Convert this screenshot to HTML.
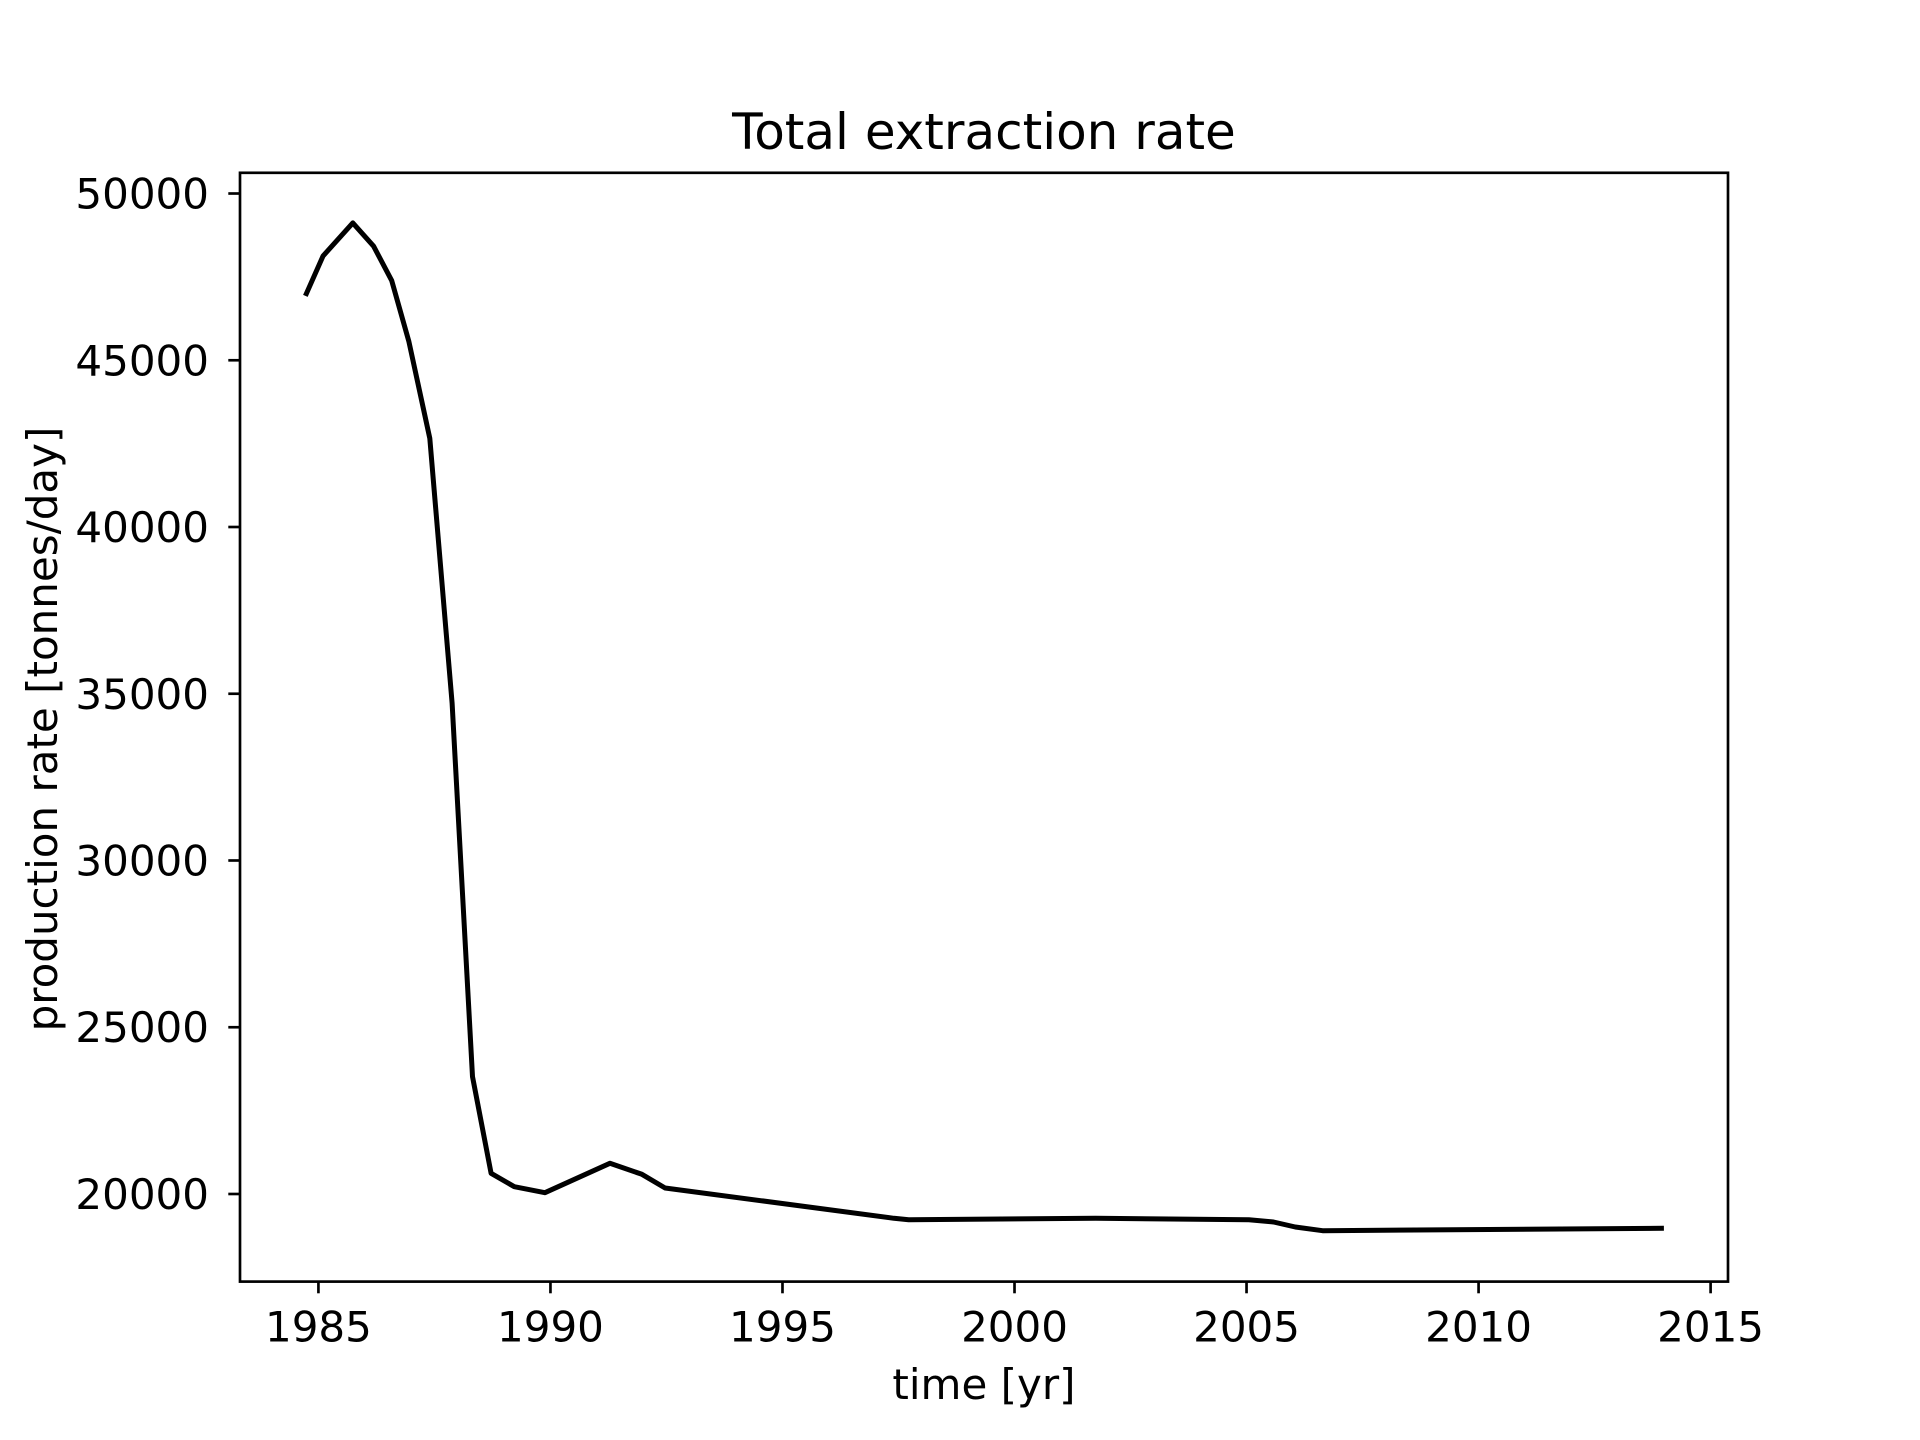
<!DOCTYPE html>
<html><head><meta charset="utf-8"><style>html,body{margin:0;padding:0;background:#fff}svg{display:block}text{font-family:"DejaVu Sans","Liberation Sans",sans-serif;fill:#000}</style></head>
<body>
<svg id="chart" width="1920" height="1440" viewBox="0 0 1920 1440" xmlns="http://www.w3.org/2000/svg">
<rect width="1920" height="1440" fill="#fff"/>
<text x="984" y="149" font-size="50" text-anchor="middle">Total extraction rate</text>
<g id="ticks"></g>
<path id="series" fill="none" stroke="#000" stroke-width="5" stroke-linejoin="round" stroke-linecap="square"/>
<rect x="240" y="172.8" width="1488" height="1108.8" fill="none" stroke="#000" stroke-width="2.67"/>
<text x="984" y="1399" font-size="42" text-anchor="middle">time [yr]</text>
<text transform="translate(57,729) rotate(-90)" font-size="42" text-anchor="middle">production rate [tonnes/day]</text>
</svg>
<script>
const years = [1984.74,1985.1,1985.74,1986.19,1986.58,1986.95,1987.4,1987.88,1988.32,1988.72,1989.22,1989.88,1991.28,1991.97,1992.47,1997.4,1997.72,2001.75,2005.05,2005.58,2006.05,2006.64,2013.94];
const rates = [47000,48130,49120,48420,47390,45560,42660,34720,23520,20620,20220,20040,20920,20590,20180,19270,19230,19270,19230,19160,19010,18900,18970];
const xTicks = [1985,1990,1995,2000,2005,2010,2015];
const yTicks = [20000,25000,30000,35000,40000,45000,50000];
const X0=240,X1=1728,Y0=1281.6,Y1=172.8;
const xMin=1983.31,xMax=2015.375,yMin=17373,yMax=50621;
function sx(v){return X0+(v-xMin)/(xMax-xMin)*(X1-X0);}
function sy(v){return Y0-(v-yMin)/(yMax-yMin)*(Y0-Y1);}
const NS="http://www.w3.org/2000/svg";
const g=document.getElementById('ticks');
xTicks.forEach(t=>{
  const l=document.createElementNS(NS,'line');
  
  
  l.setAttribute('x1',sx(t));l.setAttribute('x2',sx(t));l.setAttribute('y1',Y0);l.setAttribute('y2',Y0+11.7);
  l.setAttribute('stroke','#000');l.setAttribute('stroke-width','2.67');g.appendChild(l);
  const tx=document.createElementNS(NS,'text');
  
  
  tx.setAttribute('x',sx(t));tx.setAttribute('y',Y0+60);tx.setAttribute('font-size','42');tx.setAttribute('text-anchor','middle');
  tx.textContent=t;g.appendChild(tx);
});
yTicks.forEach(t=>{
  const l=document.createElementNS(NS,'line');
  
  
  l.setAttribute('x1',X0-11.7);l.setAttribute('x2',X0);l.setAttribute('y1',sy(t));l.setAttribute('y2',sy(t));
  l.setAttribute('stroke','#000');l.setAttribute('stroke-width','2.67');g.appendChild(l);
  const tx=document.createElementNS(NS,'text');
  
  
  tx.setAttribute('x',X0-31);tx.setAttribute('y',sy(t)+15);tx.setAttribute('font-size','42');tx.setAttribute('text-anchor','end');
  tx.textContent=t;g.appendChild(tx);
});
document.getElementById('series').setAttribute('d',years.map((y,i)=>(i?'L':'M')+sx(y).toFixed(1)+' '+sy(rates[i]).toFixed(1)).join(' '));
</script>
</body></html>
